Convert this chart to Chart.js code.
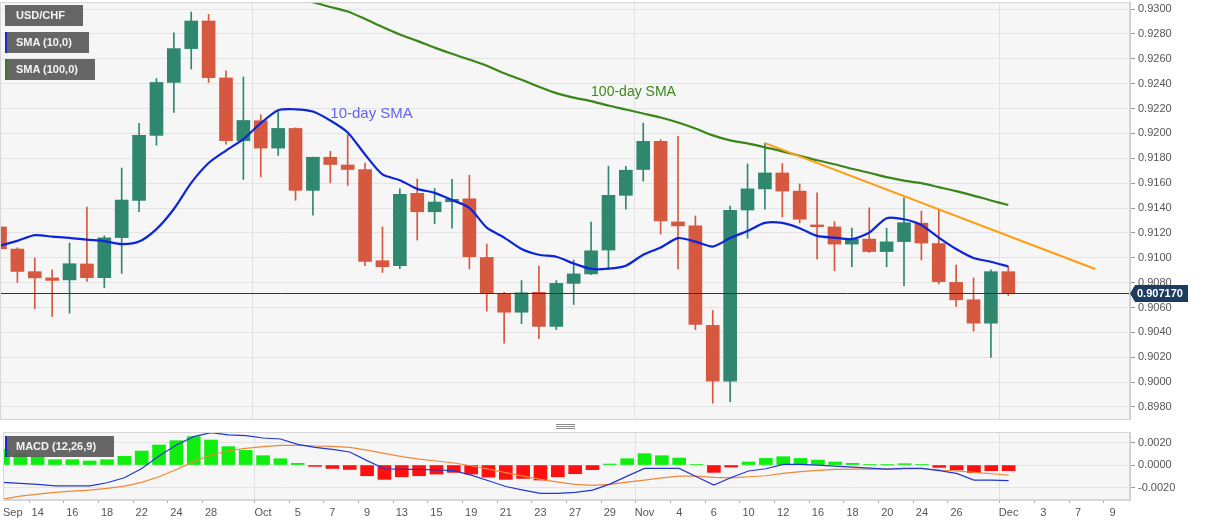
<!DOCTYPE html>
<html>
<head>
<meta charset="utf-8">
<script src="https://cdn.jsdelivr.net/npm/chart.js@4.4.0/dist/chart.umd.min.js"></script>
<style>
  body { margin:0; width:1207px; height:526px; overflow:hidden; background:#fff; position:relative; font-family: Arial, "Liberation Sans", sans-serif; }
  #priceWrap { position:absolute; left:0; top:-2px; width:1207px; height:426px; }
  #macdWrap { position:absolute; left:0; top:421px; width:1207px; height:105px; }
  .tag { position:absolute; left:5px; height:21px; background:rgba(86,86,86,0.9); color:#f4f4f4; font:bold 11px Arial, "Liberation Sans", sans-serif; line-height:21px; padding-left:11px; box-sizing:border-box; white-space:nowrap; }
  .tag.line { padding-left:9px; }
  .handle { position:absolute; left:556px; width:19px; height:1px; background:#8c8c8c; }
</style>
</head>
<body>
<div id="priceWrap"><canvas id="priceChart"></canvas></div>
<div id="macdWrap"><canvas id="macdChart"></canvas></div>

<div class="tag" style="top:5px;width:78px;">USD/CHF</div>
<div class="tag line" style="top:32px;width:84px;border-left:2px solid #1a2ad0;">SMA (10,0)</div>
<div class="tag line" style="top:59px;width:90px;border-left:2px solid #3b7a1c;">SMA (100,0)</div>
<div class="tag line" style="top:436px;width:109px;border-left:2px solid #1a2ad0;">MACD (12,26,9)</div>
<div class="handle" style="top:424px"></div>
<div class="handle" style="top:426px"></div>
<div class="handle" style="top:428px"></div>

<script>
// trading days shown on the axis (last few are empty future slots)
const days = [
  'Sep 10','Sep 11','Sep 14','Sep 15','Sep 16','Sep 17','Sep 18','Sep 21','Sep 22','Sep 23','Sep 24','Sep 25','Sep 28','Sep 29','Sep 30',
  'Oct 1','Oct 2','Oct 5','Oct 6','Oct 7','Oct 8','Oct 9','Oct 12','Oct 13','Oct 14','Oct 15','Oct 16','Oct 19','Oct 20','Oct 21','Oct 22','Oct 23','Oct 26','Oct 27','Oct 28','Oct 29','Oct 30',
  'Nov 2','Nov 3','Nov 4','Nov 5','Nov 6','Nov 9','Nov 10','Nov 11','Nov 12','Nov 13','Nov 16','Nov 17','Nov 18','Nov 19','Nov 20','Nov 23','Nov 24','Nov 25','Nov 26','Nov 27','Nov 30',
  'Dec 1','Dec 2','Dec 3','Dec 4','Dec 7','Dec 8','Dec 9','Dec 10'
];
const tickDays = ['Sep 10','Sep 14','Sep 16','Sep 18','Sep 22','Sep 24','Sep 28','Oct 1','Oct 5','Oct 7','Oct 9','Oct 13','Oct 15','Oct 19','Oct 21','Oct 23','Oct 27','Oct 29','Nov 2','Nov 4','Nov 6','Nov 10','Nov 12','Nov 16','Nov 18','Nov 20','Nov 24','Nov 26','Dec 1','Dec 3','Dec 7','Dec 9'];
const tickText = ['Sep','14','16','18','22','24','28','Oct','5','7','9','13','15','19','21','23','27','29','Nov','4','6','10','12','16','18','20','24','26','Dec','3','7','9'];
const monthDays = ['Oct 1','Nov 2','Dec 1'];

// USD/CHF daily candles
const openP  = [0.91248,0.91070,0.90888,0.90838,0.90822,0.90950,0.90840,0.91162,0.91462,0.91984,
                0.92410,0.92682,0.92904,0.92446,0.91942,0.92102,0.91882,0.92040,0.91542,0.91808,
                0.91746,0.91710,0.90976,0.90936,0.91518,0.91370,0.91450,0.91474,0.91002,0.90706,
                0.90562,0.90722,0.90448,0.90794,0.90870,0.91062,0.91502,0.91710,0.91936,0.91288,
                0.91256,0.90456,0.90008,0.91384,0.91554,0.91682,0.91536,0.91264,0.91248,0.91110,
                0.91150,0.91050,0.91130,0.91278,0.91114,0.90802,0.90662,0.90474,0.90888];
const highP  = [0.91336,0.91080,0.90998,0.90902,0.91118,0.91408,0.91176,0.91722,0.92082,0.92442,
                0.92808,0.92976,0.92958,0.92504,0.92454,0.92150,0.92176,0.92045,0.91810,0.91856,
                0.91990,0.91762,0.91248,0.91554,0.91634,0.91558,0.91630,0.91664,0.91110,0.90722,
                0.90816,0.90934,0.90816,0.90982,0.91286,0.91736,0.91736,0.92082,0.91950,0.91976,
                0.91336,0.90576,0.91416,0.91754,0.91922,0.91758,0.91594,0.91522,0.91290,0.91238,
                0.91402,0.91238,0.91482,0.91376,0.91390,0.90942,0.90838,0.90902,0.90930];
const lowP   = [0.91016,0.90802,0.90590,0.90528,0.90554,0.90810,0.90758,0.90874,0.91370,0.91904,
                0.92168,0.92518,0.92410,0.91914,0.91630,0.91650,0.91822,0.91462,0.91342,0.91602,
                0.91582,0.90936,0.90882,0.90912,0.91142,0.91274,0.91238,0.90910,0.90570,0.90314,
                0.90470,0.90350,0.90422,0.90624,0.90864,0.90910,0.91390,0.91616,0.91190,0.90910,
                0.90422,0.89830,0.89842,0.91158,0.91390,0.91328,0.91280,0.90990,0.90896,0.90928,
                0.91042,0.90928,0.90776,0.90982,0.90790,0.90608,0.90410,0.90198,0.90696];
const closeP = [0.91072,0.90890,0.90838,0.90818,0.90952,0.90840,0.91160,0.91464,0.91984,0.92410,
                0.92682,0.92904,0.92448,0.91942,0.92104,0.91882,0.92040,0.91542,0.91808,0.91750,
                0.91710,0.90970,0.90928,0.91510,0.91370,0.91448,0.91470,0.91008,0.90714,0.90562,
                0.90718,0.90448,0.90794,0.90870,0.91056,0.91502,0.91704,0.91936,0.91296,0.91256,
                0.90464,0.90008,0.91382,0.91554,0.91682,0.91536,0.91310,0.91250,0.91110,0.91150,
                0.91050,0.91128,0.91282,0.91118,0.90808,0.90662,0.90474,0.90888,0.90717];

const sma10 = [0.91096,0.91136,0.91182,0.91170,0.91160,0.91146,0.91134,0.91110,0.91130,0.91230,
               0.91392,0.91602,0.91762,0.91862,0.91954,0.92082,0.92186,0.92194,0.92176,0.92104,
               0.92008,0.91830,0.91670,0.91624,0.91554,0.91522,0.91464,0.91402,0.91242,0.91162,
               0.91070,0.91024,0.91008,0.90954,0.90910,0.90912,0.90936,0.91024,0.91082,0.91158,
               0.91130,0.91090,0.91158,0.91216,0.91280,0.91280,0.91238,0.91176,0.91162,0.91150,
               0.91202,0.91318,0.91310,0.91264,0.91162,0.91070,0.90998,0.90968,0.90930];
const sma100 = [null,null,null,null,null,null,null,null,null,null,
                null,null,null,null,null,null,null,0.93090,0.93056,0.93017,
                0.92980,0.92920,0.92856,0.92796,0.92744,0.92690,0.92640,0.92594,0.92544,0.92484,
                0.92432,0.92376,0.92324,0.92288,0.92260,0.92224,0.92192,0.92160,0.92128,0.92088,
                0.92040,0.91984,0.91944,0.91920,0.91888,0.91856,0.91820,0.91784,0.91752,0.91716,
                0.91684,0.91648,0.91620,0.91600,0.91568,0.91536,0.91500,0.91460,0.91424];
const trendDays = ['Nov 11','Dec 8'];
const trendPrices = [0.91922, 0.90910];
const lastPrice = 0.90717;

const macdLine = [-0.00154,-0.00163,-0.00172,-0.00184,-0.00184,-0.00184,-0.00157,-0.00113,-0.00030,0.00080,
                  0.00178,0.00252,0.00287,0.00267,0.00261,0.00240,0.00231,0.00184,0.00157,0.00139,
                  0.00116,0.00039,-0.00033,-0.00039,-0.00039,-0.00044,-0.00050,-0.00089,-0.00139,-0.00190,
                  -0.00222,-0.00252,-0.00252,-0.00243,-0.00222,-0.00169,-0.00098,-0.00030,-0.00030,-0.00030,
                  -0.00104,-0.00178,-0.00110,-0.00053,-0.00033,0.00006,0.00006,0.00000,-0.00009,-0.00018,
                  -0.00027,-0.00036,-0.00030,-0.00030,-0.00050,-0.00074,-0.00133,-0.00133,-0.00139];
const signalLine = [-0.00302,-0.00276,-0.00258,-0.00243,-0.00231,-0.00222,-0.00207,-0.00187,-0.00154,-0.00104,
                    -0.00039,0.00030,0.00089,0.00127,0.00148,0.00163,0.00175,0.00175,0.00169,0.00166,
                    0.00157,0.00133,0.00104,0.00074,0.00053,0.00036,0.00018,-0.00006,-0.00036,-0.00068,
                    -0.00098,-0.00127,-0.00151,-0.00172,-0.00181,-0.00172,-0.00151,-0.00133,-0.00113,-0.00098,
                    -0.00098,-0.00110,-0.00113,-0.00104,-0.00095,-0.00074,-0.00059,-0.00047,-0.00039,-0.00036,
                    -0.00036,-0.00036,-0.00033,-0.00033,-0.00044,-0.00053,-0.00065,-0.00077,-0.00089];
const histogram = [0.00139,0.00104,0.00074,0.00047,0.00047,0.00036,0.00047,0.00077,0.00124,0.00178,
                   0.00216,0.00252,0.00222,0.00163,0.00130,0.00083,0.00056,0.00015,-0.00012,-0.00030,
                   -0.00039,-0.00095,-0.00127,-0.00104,-0.00095,-0.00080,-0.00065,-0.00080,-0.00107,-0.00127,
                   -0.00119,-0.00133,-0.00104,-0.00077,-0.00041,0.00009,0.00056,0.00101,0.00083,0.00062,
                   0.00003,-0.00065,-0.00018,0.00027,0.00059,0.00074,0.00059,0.00044,0.00027,0.00015,
                   0.00003,0.00001,0.00012,0.00003,-0.00021,-0.00044,-0.00068,-0.00050,-0.00050];

const smaNotes = [
  { text: '10-day SMA', day: 'Oct 7', price: 0.9216, color: '#6464ee', font: '15px Arial, "Liberation Sans", sans-serif' },
  { text: '100-day SMA', day: 'Oct 28', price: 0.92328, color: '#3a8a1c', font: '14px Arial, "Liberation Sans", sans-serif' }
];

Chart.defaults.font.family = 'Arial, "Liberation Sans", sans-serif';
Chart.defaults.animation = false;

const UP = '#2f8770', DOWN = '#d5583f';
const candleColors = openP.map((o, i) => closeP[i] >= o ? UP : DOWN);
const isMonth = c => c.index !== undefined && monthDays.includes(days[c.index]);

// plot background + frame
const panelBg = {
  id: 'panelBg',
  beforeDraw(chart) {
    const a = chart.chartArea, ctx = chart.ctx;
    ctx.save();
    ctx.fillStyle = '#f6f6f6';
    ctx.fillRect(a.left, a.top, a.right - a.left, a.bottom - a.top);
    ctx.restore();
  },
  afterDraw(chart) {
    const a = chart.chartArea, ctx = chart.ctx;
    ctx.save();
    ctx.strokeStyle = '#d6d6d6';
    ctx.lineWidth = 1;
    ctx.strokeRect(a.left + 0.5, a.top + 0.5, a.right - a.left - 1, a.bottom - a.top - 1);
    ctx.restore();
  }
};

// current price line, its tag, and the SMA captions
const priceExtras = {
  id: 'priceExtras',
  afterDatasetsDraw(chart) {
    const ctx = chart.ctx, a = chart.chartArea;
    const x = chart.scales.x, y = chart.scales.y;
    ctx.save();
    smaNotes.forEach(n => {
      ctx.font = n.font;
      ctx.fillStyle = n.color;
      ctx.textAlign = 'left';
      ctx.textBaseline = 'middle';
      ctx.fillText(n.text, x.getPixelForValue(days.indexOf(n.day)), y.getPixelForValue(n.price));
    });
    const py = Math.round(y.getPixelForValue(lastPrice)) + 0.5;
    ctx.strokeStyle = '#1f3a58';
    ctx.lineWidth = 1;
    ctx.beginPath();
    ctx.moveTo(a.left, py);
    ctx.lineTo(a.right, py);
    ctx.stroke();
    ctx.restore();
  },
  afterDraw(chart) {
    const ctx = chart.ctx, a = chart.chartArea, y = chart.scales.y;
    const py = Math.round(y.getPixelForValue(lastPrice)) + 0.5;
    ctx.save();
    ctx.fillStyle = '#1d3d5e';
    ctx.beginPath();
    ctx.moveTo(a.right, py);
    ctx.lineTo(a.right + 5, py - 8.5);
    ctx.lineTo(a.right + 58, py - 8.5);
    ctx.lineTo(a.right + 58, py + 8.5);
    ctx.lineTo(a.right + 5, py + 8.5);
    ctx.closePath();
    ctx.fill();
    ctx.fillStyle = '#ffffff';
    ctx.font = 'bold 11px Arial, "Liberation Sans", sans-serif';
    ctx.textAlign = 'left';
    ctx.textBaseline = 'middle';
    ctx.fillText(lastPrice.toFixed(6), a.right + 7, py + 0.5);
    ctx.restore();
  }
};

new Chart(document.getElementById('priceChart'), {
  type: 'bar',
  data: {
    labels: days,
    datasets: [
      { type: 'line', label: 'Trend', data: trendDays.map((d, i) => ({ x: d, y: trendPrices[i] })),
        borderColor: '#ff9c12', borderWidth: 2, pointRadius: 0, order: 0 },
      { type: 'line', label: 'SMA (10,0)', data: sma10, borderColor: '#0c25d8', borderWidth: 2.2,
        pointRadius: 0, tension: 0.25, order: 1 },
      { type: 'line', label: 'SMA (100,0)', data: sma100, borderColor: '#3a8618', borderWidth: 2.2,
        pointRadius: 0, tension: 0.25, order: 2 },
      { label: 'Body', data: openP.map((o, i) => [o, closeP[i]]), backgroundColor: candleColors,
        barThickness: 13, minBarLength: 1, grouped: false, order: 3 },
      { label: 'Wick', data: lowP.map((l, i) => [l, highP[i]]), backgroundColor: candleColors,
        barThickness: 1, grouped: false, order: 4 }
    ]
  },
  options: {
    responsive: true,
    maintainAspectRatio: false,
    devicePixelRatio: 1,
    layout: { padding: { top: 1, left: 0, right: 0, bottom: 0 } },
    plugins: { legend: { display: false }, tooltip: { enabled: false } },
    scales: {
      x: {
        type: 'category',
        offset: false,
        ticks: { display: false, autoSkip: false },
        grid: { drawTicks: false, color: c => isMonth(c) ? '#e2e2e2' : 'rgba(0,0,0,0)' },
        border: { color: '#d6d6d6' }
      },
      y: {
        position: 'right',
        min: 0.89696,
        max: 0.93056,
        afterFit: s => { s.width = 77; },
        ticks: {
          stepSize: 0.002, maxTicksLimit: 25, includeBounds: false, padding: 3,
          color: '#555', font: { size: 11, lineHeight: 0.2 },
          callback: v => v.toFixed(4)
        },
        grid: { color: '#e4e4e4', tickColor: '#9a9a9a', tickLength: 5 },
        border: { color: '#cfcfcf' }
      }
    }
  },
  plugins: [panelBg, priceExtras]
});

new Chart(document.getElementById('macdChart'), {
  type: 'bar',
  data: {
    labels: days,
    datasets: [
      { type: 'line', label: 'MACD', data: macdLine, borderColor: '#2236d6', borderWidth: 1.2, pointRadius: 0, order: 0 },
      { type: 'line', label: 'Signal', data: signalLine, borderColor: '#f0883a', borderWidth: 1.2, pointRadius: 0, order: 1 },
      { label: 'Histogram', data: histogram, barThickness: 13, order: 2,
        backgroundColor: histogram.map(v => v >= 0 ? '#10ee10' : '#ff1010') }
    ]
  },
  options: {
    responsive: true,
    maintainAspectRatio: false,
    devicePixelRatio: 1,
    layout: { padding: { top: 11, left: 0, right: 0, bottom: 0 } },
    plugins: { legend: { display: false }, tooltip: { enabled: false } },
    scales: {
      x: {
        type: 'category',
        offset: false,
        afterFit: s => { s.height = 26; },
        ticks: {
          autoSkip: false, maxRotation: 0, align: 'inner', padding: 3,
          color: '#555', font: { size: 11 },
          callback: (v, i) => { const k = tickDays.indexOf(days[i]); return k < 0 ? '' : tickText[k]; }
        },
        grid: {
          tickLength: 3,
          color: c => isMonth(c) ? '#e2e2e2' : 'rgba(0,0,0,0)',
          tickColor: c => (c.index !== undefined && tickDays.includes(days[c.index])) ? '#aaaaaa' : 'rgba(0,0,0,0)'
        },
        border: { color: '#d6d6d6' }
      },
      y: {
        position: 'right',
        min: -0.0031,
        max: 0.00293,
        afterFit: s => { s.width = 77; },
        ticks: {
          stepSize: 0.002, maxTicksLimit: 5, includeBounds: false, padding: 3,
          color: '#555', font: { size: 11 },
          callback: v => Math.abs(v) < 1e-9 ? '0.0000' : v.toFixed(4)
        },
        grid: { color: '#e4e4e4', tickColor: '#9a9a9a', tickLength: 5 },
        border: { color: '#cfcfcf' }
      }
    }
  },
  plugins: [panelBg]
});
</script>
</body>
</html>
